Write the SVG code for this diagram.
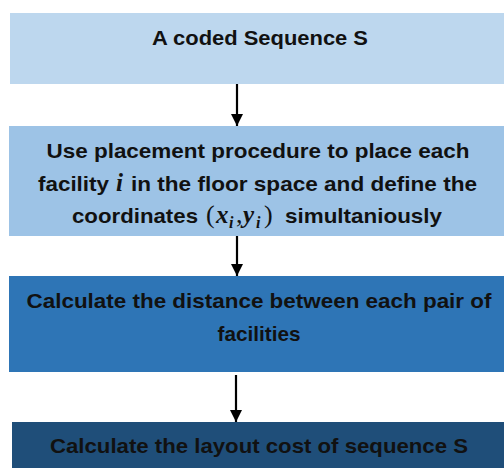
<svg xmlns="http://www.w3.org/2000/svg" width="504" height="468" viewBox="0 0 504 468">
<defs>
<style>
.t{font-family:"Liberation Sans","DejaVu Sans",sans-serif;font-weight:bold;font-size:21px;fill:#111;}
.m{font-family:"Liberation Serif","DejaVu Serif",serif;font-style:italic;font-weight:bold;font-size:25px;fill:#111;}
.s{font-family:"Liberation Serif","DejaVu Serif",serif;font-style:italic;font-weight:bold;font-size:16px;fill:#111;}
.p{font-family:"Liberation Serif","DejaVu Serif",serif;font-size:26px;fill:#111;}
.edge{stroke:#000;stroke-width:2.2;fill:none;}
</style>
<marker id="ah" viewBox="0 0 10 10" refX="10" refY="5" markerWidth="5.5" markerHeight="6.5" markerUnits="strokeWidth" orient="auto">
<path d="M0,0 L10,5 L0,10 z" fill="#000"/>
</marker>
</defs>
<rect width="504" height="468" fill="#fff"/>
<g id="n1">
<rect x="10" y="13" width="500" height="71" fill="#BDD7EE"/>
<text class="t" x="260" y="45" text-anchor="middle" textLength="216" lengthAdjust="spacingAndGlyphs">A coded Sequence S</text>
</g>
<g id="n2">
<rect x="9" y="126" width="501" height="110" fill="#9DC3E6"/>
<text class="t" x="258" y="158" text-anchor="middle" textLength="423" lengthAdjust="spacingAndGlyphs">Use placement procedure to place each</text>
<text class="t" x="38" y="191" textLength="71" lengthAdjust="spacingAndGlyphs">facility</text>
<text class="m" x="116" y="191">i</text>
<text class="t" x="131" y="191" textLength="346" lengthAdjust="spacingAndGlyphs">in the floor space and define the</text>
<text class="t" x="72" y="223" textLength="126" lengthAdjust="spacingAndGlyphs">coordinates</text>
<text class="p" x="206" y="223">(</text>
<text class="m" x="216" y="223">x</text>
<text class="s" x="229" y="228">i</text>
<text class="p" x="236" y="223">,</text>
<text class="m" x="243" y="223">y</text>
<text class="s" x="256" y="228">i</text>
<text class="p" x="264" y="223">)</text>
<text class="t" x="285" y="223" textLength="157" lengthAdjust="spacingAndGlyphs">simultaniously</text>
</g>
<g id="n3">
<rect x="9" y="276" width="501" height="96" fill="#2E75B6"/>
<text class="t" x="259" y="308" text-anchor="middle" textLength="465" lengthAdjust="spacingAndGlyphs">Calculate the distance between each pair of</text>
<text class="t" x="259" y="341" text-anchor="middle" textLength="83" lengthAdjust="spacingAndGlyphs">facilities</text>
</g>
<g id="n4">
<rect x="12" y="422" width="498" height="50" fill="#1F4E79"/>
<text class="t" x="259" y="453" text-anchor="middle" textLength="418" lengthAdjust="spacingAndGlyphs">Calculate the layout cost of sequence S</text>
</g>
<g id="edges">
<line class="edge" x1="237" y1="84" x2="237" y2="126" marker-end="url(#ah)"/>
<line class="edge" x1="237" y1="236" x2="237" y2="276" marker-end="url(#ah)"/>
<line class="edge" x1="236" y1="375" x2="236" y2="422" marker-end="url(#ah)"/>
</g>
</svg>
